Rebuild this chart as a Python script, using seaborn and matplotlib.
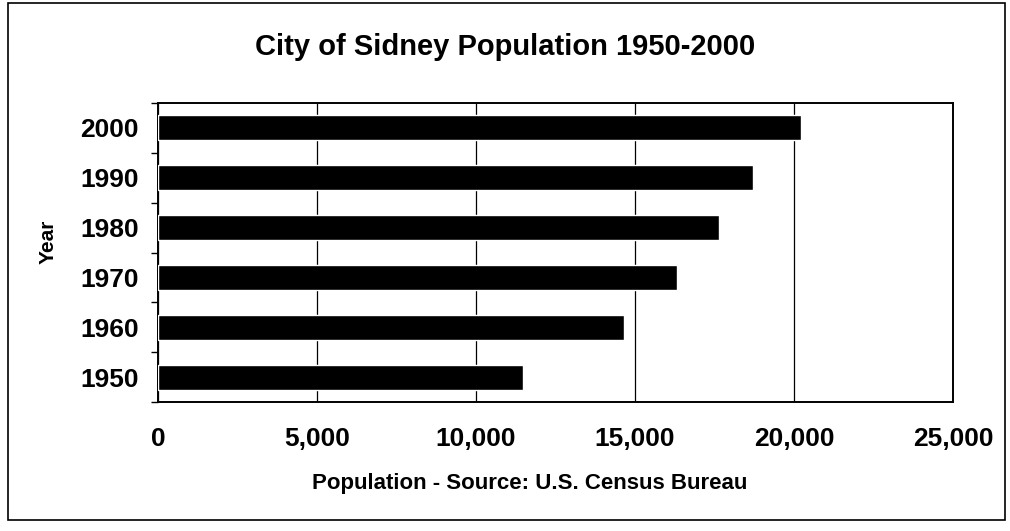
import matplotlib
matplotlib.use("Agg")
import matplotlib.pyplot as plt
import seaborn as sns
import pandas as pd
import numpy as np
from matplotlib.ticker import FixedLocator, FuncFormatter
from matplotlib.patches import Rectangle

years = ["2000", "1990", "1980", "1970", "1960", "1950"]
population = [20211, 18710, 17657, 16332, 14663, 11491]
x_ticks = [0, 5000, 10000, 15000, 20000, 25000]

sns.set_theme(style="white")
plt.rcParams['font.family'] = ['Liberation Sans', 'DejaVu Sans']

df = pd.DataFrame({"Year": years, "Population": population})

fig = plt.figure(figsize=(10.1, 5.31), dpi=100)
ax = fig.add_axes([158/1010, (531-402)/531, (953-158)/1010, (402-103)/531])

sns.barplot(data=df, x="Population", y="Year", order=years, orient="h",
            color="black", width=0.5, ax=ax, saturation=1, zorder=3)

ax.set_xlim(0, 25000)
ax.set_ylim(5.5, -0.5)
ax.set_xticks(x_ticks)
ax.xaxis.set_major_formatter(FuncFormatter(lambda v, p: f"{int(v):,}"))
ax.grid(axis="x", color="black", linewidth=0.9, zorder=0)
ax.set_axisbelow(True)

for s in ax.spines.values():
    s.set_visible(True)
    s.set_color("black")
    s.set_linewidth(1.4)

ax.tick_params(axis="x", which="major", direction="out", length=6, width=1, color="black",
               labelsize=19, pad=12)
ax.tick_params(axis="y", which="major", length=0, labelsize=19, pad=14)
ax.yaxis.set_minor_locator(FixedLocator(np.arange(-0.5, 6.0, 1.0)))
ax.tick_params(axis="y", which="minor", direction="out", length=5, width=1, color="black", left=True)
for lbl in ax.get_xticklabels() + ax.get_yticklabels():
    lbl.set_fontweight("bold")
    lbl.set_color("black")

ax.set_xlabel("Population - Source: U.S. Census Bureau", fontsize=16, fontweight="bold",
              color="black", va="center")
ax.xaxis.set_label_coords((530-158)/795, (402-483)/299)
ax.set_ylabel("Year", fontsize=15, fontweight="bold", color="black", va="center")
ax.yaxis.set_label_coords((48-158)/795, (402-242)/299)

fig.text(505/1010, 1 - 47/531, "City of Sidney Population 1950-2000", ha="center", va="center",
         fontsize=21, fontweight="bold", color="black")

fig.patches.append(Rectangle((8/1010, 11/531), 997/1010, 517/531, transform=fig.transFigure,
                             fill=False, edgecolor="black", linewidth=1.2))

fig.savefig("out.png", dpi=100, facecolor="white")
